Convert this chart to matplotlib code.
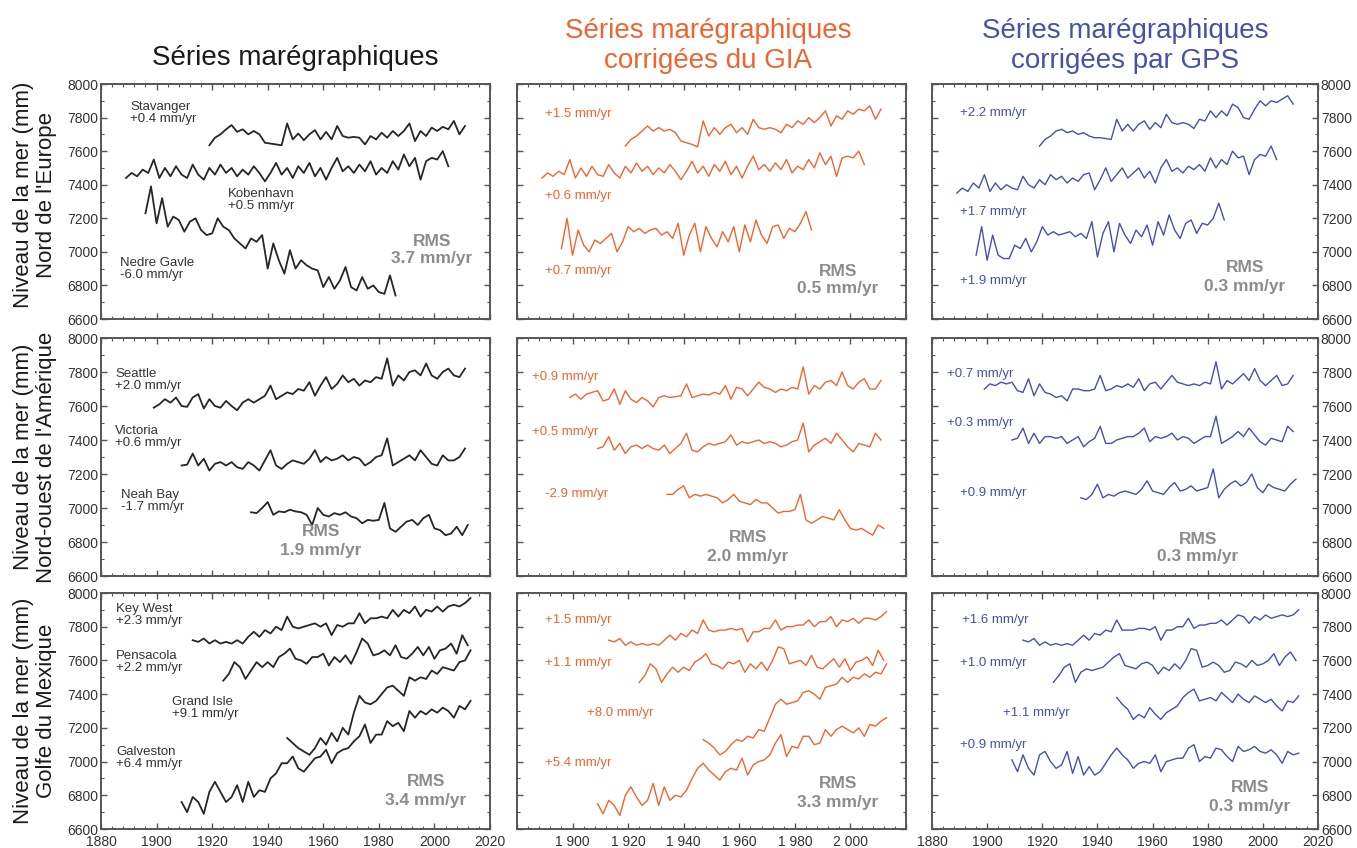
import matplotlib
matplotlib.use('Agg')
import matplotlib.pyplot as plt
from matplotlib.ticker import MultipleLocator
import numpy as np

plt.rcParams['font.family'] = ['Liberation Sans', 'DejaVu Sans']

# Mean sea level (mm), one value read every 2 years from the start year

# --- Nord de l'Europe : raw tide gauges ---
stavanger_y0 = 1919
stavanger = [7635, 7680, 7700, 7730, 7755, 7715, 7730, 7700, 7720, 7700, 7650, 7645, 7640, 7635,
             7765, 7670, 7705, 7665, 7700, 7725, 7670, 7715, 7670, 7750, 7690, 7680, 7685, 7680,
             7640, 7690, 7670, 7710, 7680, 7720, 7690, 7720, 7765, 7660, 7720, 7690, 7740, 7720,
             7745, 7730, 7780, 7700, 7750]
kobenhavn_y0 = 1889
kobenhavn = [7440, 7470, 7450, 7490, 7470, 7550, 7440, 7500, 7450, 7510, 7460, 7440, 7520, 7460,
             7430, 7500, 7460, 7520, 7470, 7500, 7450, 7490, 7460, 7510, 7470, 7420, 7470, 7530,
             7460, 7500, 7440, 7510, 7470, 7530, 7450, 7500, 7430, 7500, 7560, 7480, 7510, 7470,
             7520, 7480, 7540, 7460, 7500, 7470, 7540, 7490, 7580, 7510, 7560, 7430, 7540, 7560,
             7550, 7600, 7510]
nedre_gavle_y0 = 1896
nedre_gavle = [7230, 7390, 7170, 7320, 7150, 7210, 7190, 7120, 7180, 7200, 7130, 7100, 7110, 7200,
               7150, 7130, 7080, 7050, 7020, 7080, 7060, 7100, 6900, 7050, 6950, 6870, 7010, 6900,
               6950, 6920, 6900, 6890, 6790, 6850, 6780, 6830, 6910, 6790, 6770, 6850, 6780, 6800,
               6760, 6750, 6860, 6740]

# --- Nord de l'Europe : corrected for GIA ---
eu_gia_1_y0 = 1919
eu_gia_1 = [7630, 7670, 7690, 7720, 7750, 7720, 7740, 7720, 7730, 7710, 7660, 7650, 7640, 7625,
            7780, 7690, 7740, 7700, 7740, 7760, 7710, 7740, 7700, 7790, 7740, 7730, 7740, 7730,
            7710, 7760, 7740, 7780, 7760, 7800, 7770, 7800, 7840, 7750, 7810, 7790, 7840, 7820,
            7850, 7840, 7870, 7790, 7850]
eu_gia_2_y0 = 1889
eu_gia_2 = [7440, 7470, 7450, 7480, 7460, 7550, 7440, 7500, 7450, 7510, 7460, 7450, 7520, 7470,
            7440, 7510, 7470, 7530, 7480, 7510, 7460, 7500, 7470, 7520, 7480, 7430, 7480, 7540,
            7470, 7510, 7450, 7520, 7480, 7540, 7460, 7510, 7440, 7510, 7570, 7490, 7520, 7480,
            7530, 7490, 7550, 7470, 7510, 7490, 7550, 7500, 7590, 7520, 7570, 7450, 7560, 7570,
            7560, 7600, 7520]
eu_gia_3_y0 = 1896
eu_gia_3 = [7020, 7200, 6980, 7130, 7040, 7000, 7070, 7050, 7080, 7110, 7000, 7060, 7150, 7120,
            7140, 7110, 7130, 7140, 7100, 7120, 7080, 7170, 6980, 7100, 7170, 7000, 7150, 7080,
            7030, 7120, 7060, 7150, 7000, 7160, 7060, 7190, 7100, 7050, 7150, 7160, 7080, 7140,
            7120, 7170, 7240, 7130]

# --- Nord de l'Europe : corrected with GPS ---
eu_gps_1_y0 = 1919
eu_gps_1 = [7630, 7670, 7690, 7720, 7730, 7710, 7720, 7700, 7710, 7690, 7680, 7680, 7675, 7670,
            7790, 7720, 7760, 7720, 7760, 7780, 7730, 7770, 7740, 7820, 7770, 7760, 7770, 7760,
            7735, 7790, 7780, 7840, 7800, 7840, 7810, 7880, 7860, 7800, 7790, 7850, 7900, 7870,
            7900, 7890, 7910, 7930, 7880]
eu_gps_2_y0 = 1889
eu_gps_2 = [7350, 7380, 7360, 7410, 7380, 7460, 7360, 7410, 7370, 7400, 7380, 7370, 7450, 7400,
            7380, 7430, 7400, 7460, 7430, 7450, 7410, 7440, 7420, 7460, 7470, 7370, 7430, 7500,
            7420, 7460, 7500, 7440, 7470, 7500, 7440, 7480, 7410, 7500, 7550, 7480, 7500, 7470,
            7510, 7490, 7520, 7480, 7560, 7500, 7550, 7520, 7600, 7560, 7570, 7460, 7550, 7580,
            7570, 7630, 7550]
eu_gps_3_y0 = 1896
eu_gps_3 = [6980, 7150, 6950, 7100, 6980, 6960, 6960, 7040, 7020, 7080, 7000, 7060, 7150, 7100,
            7120, 7100, 7110, 7120, 7090, 7110, 7080, 7180, 6970, 7110, 7180, 7000, 7170, 7100,
            7050, 7130, 7090, 7160, 7040, 7180, 7100, 7220, 7130, 7080, 7170, 7190, 7110, 7170,
            7160, 7200, 7290, 7190]

# --- Nord-ouest de l'Amerique : raw ---
seattle_y0 = 1899
seattle = [7590, 7610, 7640, 7620, 7650, 7600, 7595, 7650, 7670, 7585, 7640, 7600, 7590, 7630,
           7600, 7575, 7620, 7640, 7620, 7640, 7660, 7720, 7640, 7660, 7680, 7670, 7700, 7690,
           7740, 7660, 7720, 7770, 7700, 7730, 7780, 7740, 7760, 7720, 7750, 7740, 7770, 7760,
           7880, 7720, 7780, 7750, 7800, 7810, 7780, 7850, 7780, 7760, 7800, 7820, 7780, 7770,
           7820]
victoria_y0 = 1909
victoria = [7250, 7255, 7320, 7250, 7290, 7220, 7260, 7270, 7250, 7270, 7240, 7230, 7270, 7250,
            7220, 7280, 7340, 7250, 7230, 7260, 7280, 7270, 7260, 7290, 7340, 7270, 7300, 7280,
            7290, 7310, 7280, 7300, 7290, 7250, 7270, 7300, 7310, 7410, 7250, 7270, 7290, 7310,
            7280, 7340, 7300, 7260, 7250, 7310, 7280, 7280, 7300, 7350]
neah_bay_y0 = 1934
neah_bay = [6975, 6970, 7000, 7035, 6960, 6980, 6975, 6990, 6980, 6975, 6960, 6900, 7000, 6960,
            6950, 6970, 6960, 6975, 6950, 6940, 6910, 6930, 6925, 6930, 7030, 6880, 6860, 6890,
            6920, 6930, 6900, 6940, 6960, 6880, 6870, 6840, 6850, 6890, 6840, 6900]

# --- Nord-ouest de l'Amerique : GIA ---
nw_gia_1_y0 = 1899
nw_gia_1 = [7650, 7670, 7640, 7670, 7680, 7690, 7630, 7640, 7700, 7610, 7690, 7640, 7620, 7650,
            7630, 7595, 7650, 7660, 7650, 7655, 7660, 7730, 7650, 7660, 7670, 7665, 7680, 7670,
            7720, 7640, 7710, 7700, 7660, 7700, 7740, 7710, 7700, 7680, 7700, 7690, 7710, 7700,
            7830, 7670, 7720, 7700, 7740, 7750, 7720, 7800, 7720, 7700, 7740, 7760, 7700, 7700,
            7750]
nw_gia_2_y0 = 1909
nw_gia_2 = [7350, 7360, 7420, 7340, 7380, 7320, 7360, 7370, 7350, 7370, 7350, 7340, 7370, 7320,
            7350, 7380, 7440, 7340, 7330, 7360, 7380, 7370, 7380, 7390, 7430, 7370, 7390, 7380,
            7390, 7400, 7380, 7390, 7380, 7360, 7370, 7390, 7400, 7500, 7330, 7370, 7390, 7410,
            7380, 7440, 7400, 7360, 7330, 7380, 7370, 7360, 7440, 7400]
nw_gia_3_y0 = 1934
nw_gia_3 = [7080, 7080, 7110, 7130, 7060, 7080, 7070, 7080, 7070, 7060, 7030, 7050, 7080, 7040,
            7030, 7020, 7050, 7030, 7030, 7000, 6970, 6980, 6980, 6990, 7080, 6930, 6910, 6930,
            6950, 6940, 6930, 6990, 6930, 6880, 6870, 6880, 6860, 6840, 6900, 6880]

# --- Nord-ouest de l'Amerique : GPS ---
nw_gps_1_y0 = 1899
nw_gps_1 = [7700, 7730, 7720, 7740, 7730, 7740, 7690, 7680, 7760, 7660, 7730, 7680, 7670, 7650,
            7660, 7630, 7700, 7700, 7690, 7690, 7700, 7780, 7690, 7700, 7720, 7710, 7730, 7710,
            7760, 7690, 7730, 7740, 7700, 7740, 7780, 7740, 7730, 7720, 7730, 7720, 7740, 7730,
            7860, 7700, 7750, 7730, 7760, 7790, 7750, 7820, 7750, 7720, 7750, 7780, 7720, 7730,
            7780]
nw_gps_2_y0 = 1909
nw_gps_2 = [7400, 7410, 7470, 7380, 7440, 7380, 7420, 7420, 7410, 7420, 7380, 7400, 7420, 7360,
            7390, 7410, 7480, 7380, 7380, 7400, 7410, 7420, 7420, 7440, 7470, 7390, 7420, 7410,
            7420, 7440, 7400, 7420, 7410, 7380, 7400, 7420, 7420, 7540, 7380, 7400, 7420, 7450,
            7420, 7470, 7430, 7390, 7370, 7410, 7400, 7390, 7480, 7450]
nw_gps_3_y0 = 1934
nw_gps_3 = [7060, 7050, 7080, 7140, 7060, 7080, 7070, 7090, 7100, 7090, 7080, 7110, 7160, 7100,
            7090, 7080, 7120, 7150, 7100, 7110, 7130, 7100, 7110, 7120, 7230, 7060, 7110, 7140,
            7160, 7130, 7150, 7200, 7120, 7090, 7140, 7120, 7110, 7100, 7140, 7170]

# --- Golfe du Mexique : raw ---
key_west_y0 = 1913
key_west = [7720, 7710, 7730, 7700, 7720, 7700, 7710, 7700, 7720, 7700, 7740, 7770, 7740, 7780,
            7760, 7800, 7780, 7860, 7800, 7790, 7800, 7810, 7820, 7800, 7820, 7750, 7810, 7800,
            7820, 7820, 7880, 7820, 7850, 7850, 7860, 7850, 7900, 7860, 7900, 7880, 7920, 7860,
            7900, 7890, 7920, 7890, 7920, 7930, 7920, 7940, 7970]
pensacola_y0 = 1924
pensacola = [7480, 7520, 7590, 7560, 7490, 7540, 7590, 7560, 7590, 7560, 7620, 7640, 7670, 7610,
             7600, 7580, 7620, 7620, 7640, 7570, 7620, 7590, 7630, 7580, 7650, 7730, 7700, 7630,
             7640, 7660, 7630, 7690, 7620, 7610, 7640, 7680, 7630, 7680, 7610, 7660, 7670, 7700,
             7640, 7750, 7690]
grand_isle_y0 = 1947
grand_isle = [7140, 7110, 7080, 7060, 7040, 7080, 7140, 7100, 7170, 7120, 7200, 7160, 7290, 7390,
              7350, 7340, 7360, 7400, 7440, 7450, 7420, 7390, 7500, 7480, 7500, 7490, 7540, 7520,
              7560, 7550, 7540, 7590, 7600, 7660]
galveston_y0 = 1909
galveston = [6760, 6700, 6790, 6760, 6690, 6820, 6880, 6820, 6760, 6790, 6860, 6760, 6880, 6790,
             6830, 6820, 6900, 6930, 6990, 6990, 7030, 6960, 6940, 6980, 7020, 7030, 7070, 6990,
             7050, 7070, 7080, 7120, 7150, 7220, 7110, 7160, 7160, 7240, 7210, 7230, 7180, 7300,
             7260, 7300, 7280, 7310, 7290, 7320, 7300, 7260, 7330, 7310, 7360]

# --- Golfe du Mexique : GIA ---
gm_gia_1_y0 = 1913
gm_gia_1 = [7720, 7710, 7730, 7690, 7710, 7690, 7700, 7690, 7700, 7690, 7720, 7750, 7720, 7760,
            7740, 7780, 7760, 7840, 7780, 7770, 7780, 7780, 7790, 7780, 7790, 7710, 7770, 7770,
            7790, 7790, 7840, 7780, 7800, 7800, 7810, 7810, 7840, 7800, 7830, 7830, 7860, 7800,
            7840, 7830, 7850, 7820, 7850, 7850, 7840, 7860, 7890]
gm_gia_2_y0 = 1924
gm_gia_2 = [7470, 7510, 7580, 7550, 7470, 7520, 7560, 7530, 7560, 7540, 7590, 7610, 7640, 7580,
            7570, 7550, 7590, 7580, 7600, 7530, 7580, 7550, 7590, 7540, 7600, 7680, 7670, 7580,
            7590, 7600, 7570, 7630, 7560, 7550, 7580, 7610, 7560, 7610, 7540, 7590, 7600, 7620,
            7570, 7660, 7600]
gm_gia_3_y0 = 1947
gm_gia_3 = [7130, 7110, 7080, 7040, 7060, 7100, 7130, 7120, 7150, 7140, 7190, 7180, 7260, 7340,
            7370, 7340, 7350, 7360, 7410, 7420, 7400, 7370, 7440, 7450, 7460, 7500, 7470, 7500,
            7490, 7520, 7500, 7530, 7520, 7580]
gm_gia_4_y0 = 1909
gm_gia_4 = [6750, 6690, 6770, 6740, 6680, 6800, 6850, 6790, 6740, 6770, 6870, 6740, 6850, 6770,
            6800, 6790, 6830, 6900, 6960, 6990, 6950, 6920, 6890, 6940, 6960, 6950, 7020, 6920,
            6980, 7000, 7010, 7040, 7110, 7160, 7030, 7090, 7080, 7150, 7150, 7100, 7110, 7190,
            7150, 7190, 7210, 7190, 7170, 7200, 7150, 7220, 7210, 7240, 7260]

# --- Golfe du Mexique : GPS ---
gm_gps_1_y0 = 1913
gm_gps_1 = [7720, 7710, 7730, 7690, 7710, 7690, 7700, 7690, 7700, 7690, 7720, 7750, 7720, 7760,
            7750, 7780, 7770, 7840, 7780, 7780, 7780, 7790, 7790, 7780, 7800, 7720, 7780, 7780,
            7800, 7800, 7850, 7790, 7810, 7810, 7820, 7820, 7840, 7810, 7840, 7870, 7860, 7820,
            7860, 7840, 7870, 7850, 7860, 7870, 7860, 7870, 7900]
gm_gps_2_y0 = 1924
gm_gps_2 = [7470, 7510, 7560, 7580, 7470, 7530, 7550, 7540, 7550, 7560, 7590, 7620, 7640, 7570,
            7560, 7550, 7580, 7590, 7570, 7520, 7560, 7540, 7580, 7550, 7600, 7670, 7660, 7560,
            7570, 7590, 7570, 7530, 7540, 7590, 7580, 7560, 7600, 7570, 7580, 7600, 7640, 7570,
            7620, 7650, 7600]
gm_gps_3_y0 = 1947
gm_gps_3 = [7380, 7340, 7310, 7250, 7280, 7260, 7320, 7280, 7250, 7290, 7310, 7330, 7380, 7410,
            7430, 7360, 7370, 7380, 7360, 7410, 7380, 7350, 7400, 7370, 7350, 7390, 7370, 7350,
            7370, 7330, 7300, 7360, 7350, 7390]
gm_gps_4_y0 = 1909
gm_gps_4 = [7010, 6940, 7040, 6960, 6920, 7040, 7060, 7000, 6960, 6980, 7060, 6930, 7030, 6920,
            6970, 6920, 6940, 6990, 7040, 7080, 7040, 7010, 6960, 6990, 7000, 6990, 7040, 6940,
            7000, 7010, 7020, 7020, 7080, 7100, 7000, 7030, 7020, 7080, 7070, 7030, 7000, 7090,
            7060, 7070, 7090, 7060, 7050, 7070, 7040, 6990, 7060, 7040, 7050]

col_titles = ["Séries marégraphiques",
              "Séries marégraphiques\ncorrigées du GIA",
              "Séries marégraphiques\ncorrigées par GPS"]
row_labels = ["Niveau de la mer (mm)\nNord de l'Europe",
              "Niveau de la mer (mm)\nNord-ouest de l'Amérique",
              "Niveau de la mer (mm)\nGolfe du Mexique"]
rms_values = [["3.7", "0.5", "0.3"],
              ["1.9", "2.0", "0.3"],
              ["3.4", "3.3", "0.3"]]
year_ticks = [1880, 1900, 1920, 1940, 1960, 1980, 2000, 2020]

BLACK = '#262626'
ORANGE = '#f0642f'
BLUE = '#4551ab'
col_colors = [BLACK, ORANGE, BLUE]

panels = [
    [[(stavanger_y0, stavanger), (kobenhavn_y0, kobenhavn), (nedre_gavle_y0, nedre_gavle)],
     [(eu_gia_1_y0, eu_gia_1), (eu_gia_2_y0, eu_gia_2), (eu_gia_3_y0, eu_gia_3)],
     [(eu_gps_1_y0, eu_gps_1), (eu_gps_2_y0, eu_gps_2), (eu_gps_3_y0, eu_gps_3)]],
    [[(seattle_y0, seattle), (victoria_y0, victoria), (neah_bay_y0, neah_bay)],
     [(nw_gia_1_y0, nw_gia_1), (nw_gia_2_y0, nw_gia_2), (nw_gia_3_y0, nw_gia_3)],
     [(nw_gps_1_y0, nw_gps_1), (nw_gps_2_y0, nw_gps_2), (nw_gps_3_y0, nw_gps_3)]],
    [[(key_west_y0, key_west), (pensacola_y0, pensacola), (grand_isle_y0, grand_isle),
      (galveston_y0, galveston)],
     [(gm_gia_1_y0, gm_gia_1), (gm_gia_2_y0, gm_gia_2), (gm_gia_3_y0, gm_gia_3),
      (gm_gia_4_y0, gm_gia_4)],
     [(gm_gps_1_y0, gm_gps_1), (gm_gps_2_y0, gm_gps_2), (gm_gps_3_y0, gm_gps_3),
      (gm_gps_4_y0, gm_gps_4)]],
]

# station / trend labels: (text, left px, centre px) per panel
station_labels = [
    [[("Stavanger\n+0.4 mm/yr", 130, 113), ("Kobenhavn\n+0.5 mm/yr", 228, 200),
      ("Nedre Gavle\n-6.0 mm/yr", 120, 269)],
     [("+1.5 mm/yr", 545, 114), ("+0.6 mm/yr", 545, 196), ("+0.7 mm/yr", 545, 271)],
     [("+2.2 mm/yr", 960, 113), ("+1.7 mm/yr", 960, 212), ("+1.9 mm/yr", 960, 281)]],
    [[("Seattle\n+2.0 mm/yr", 115, 380), ("Victoria\n+0.6 mm/yr", 115, 437),
      ("Neah Bay\n-1.7 mm/yr", 121, 501)],
     [("+0.9 mm/yr", 532, 377), ("+0.5 mm/yr", 532, 432), ("-2.9 mm/yr", 545, 494)],
     [("+0.7 mm/yr", 947, 374), ("+0.3 mm/yr", 947, 423), ("+0.9 mm/yr", 960, 493)]],
    [[("Key West\n+2.3 mm/yr", 116, 615), ("Pensacola\n+2.2 mm/yr", 116, 662),
      ("Grand Isle\n+9.1 mm/yr", 172, 708), ("Galveston\n+6.4 mm/yr", 116, 758)],
     [("+1.5 mm/yr", 545, 620), ("+1.1 mm/yr", 545, 663), ("+8.0 mm/yr", 587, 713),
      ("+5.4 mm/yr", 545, 763)],
     [("+1.6 mm/yr", 962, 620), ("+1.0 mm/yr", 960, 663), ("+1.1 mm/yr", 1003, 713),
      ("+0.9 mm/yr", 960, 745)]],
]
rms_pos = [[(432, 250), (838, 280), (1245, 277)],
           [(321, 541), (748, 547), (1198, 548)],
           [(426, 791), (838, 793), (1250, 797)]]

W, H = 1357, 848
col_x = [(101, 389), (517, 389), (932, 386)]
row_y = [(84, 319), (338, 576), (593, 829)]


def fx(px):
    return px / W


def fy(py):
    return 1 - py / H


fig = plt.figure(figsize=(W / 100, H / 100), dpi=100)

for r in range(3):
    top, bot = row_y[r]
    for c in range(3):
        x0, w = col_x[c]
        ax = fig.add_axes([fx(x0), fy(bot), w / W, (bot - top) / H])
        for y0, vals in panels[r][c]:
            yrs = np.arange(y0, y0 + 2 * len(vals), 2)
            ax.plot(yrs, vals, color=col_colors[c], lw=1.3 if c == 0 else 1.0)
        ax.set_xlim(1880, 2020)
        ax.set_ylim(6600, 8000)
        ax.xaxis.set_major_locator(MultipleLocator(20))
        ax.xaxis.set_minor_locator(MultipleLocator(4))
        ax.yaxis.set_major_locator(MultipleLocator(200))
        ax.yaxis.set_minor_locator(MultipleLocator(100))
        ax.tick_params(which='both', direction='in', top=True, right=True,
                       color='#555555', labelsize=10, labelcolor='#333333', pad=2)
        ax.tick_params(axis='x', pad=4.5)
        ax.tick_params(which='major', length=4, width=1)
        ax.tick_params(which='minor', length=2.5, width=0.8)
        for sp in ax.spines.values():
            sp.set_color('#555555')
            sp.set_linewidth(1.4)
        ax.tick_params(labelleft=(c == 0), labelright=(c == 2), labelbottom=(r == 2))
        if r == 2 and c == 1:
            ax.set_xticks(year_ticks)
            ax.set_xticklabels([''] + [str(t)[0] + ' ' + str(t)[1:] for t in year_ticks[1:-1]] + [''])

        for txt, px, py in station_labels[r][c]:
            fig.text(fx(px), fy(py), txt, ha='left', va='center', fontsize=9.5,
                     color='#333333' if c == 0 else col_colors[c], linespacing=1.0)
        rx, ry = rms_pos[r][c]
        fig.text(fx(rx), fy(ry), "RMS\n" + rms_values[r][c] + " mm/yr", ha='center', va='center',
                 fontsize=12.5, fontweight='bold', color='#8c8c8c', linespacing=1.25)

# column titles
fig.text(fx(295), fy(58), col_titles[0], ha='center', va='center', fontsize=20, color='#1a1a1a')
fig.text(fx(708), fy(46), col_titles[1], ha='center', va='center', fontsize=20, color=ORANGE,
         linespacing=1.15)
fig.text(fx(1125), fy(46), col_titles[2], ha='center', va='center', fontsize=20, color=BLUE,
         linespacing=1.15)

# row labels
for r, cy in enumerate([195, 457, 711]):
    fig.text(fx(35), fy(cy), row_labels[r], rotation=90, ha='center', va='center',
             fontsize=16, color='#1a1a1a', linespacing=1.1)

fig.savefig('out.png', dpi=100)
